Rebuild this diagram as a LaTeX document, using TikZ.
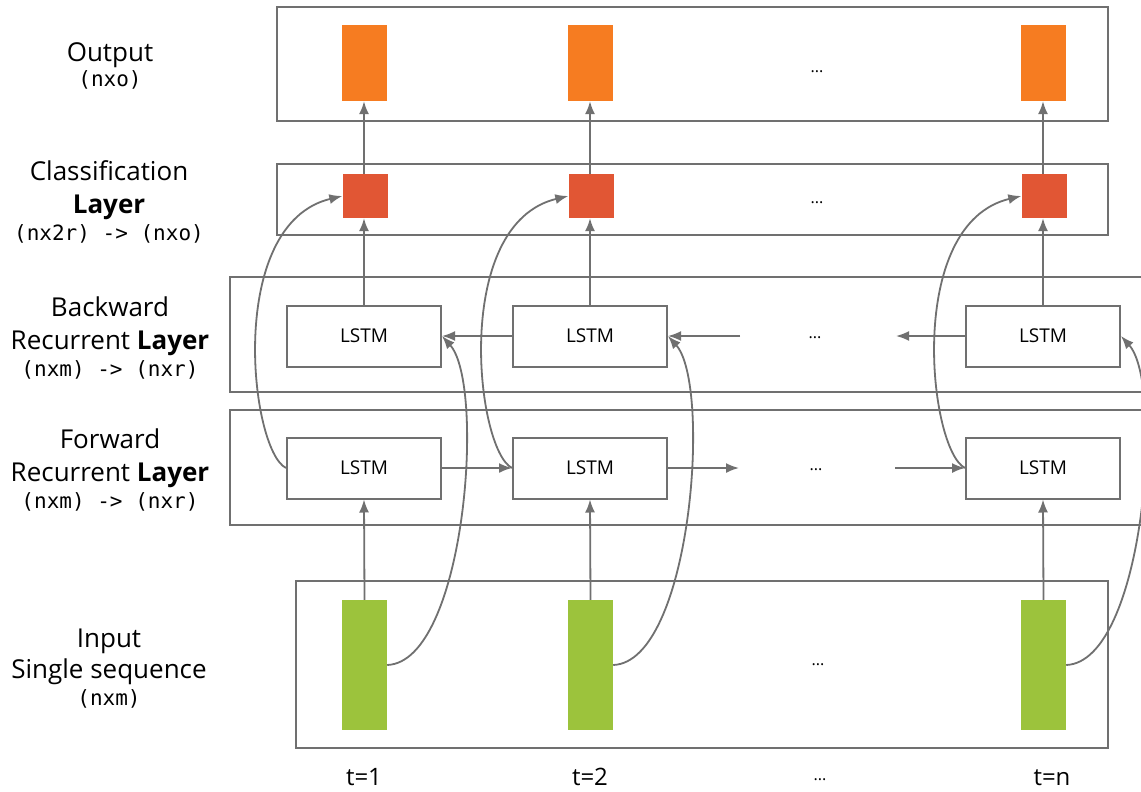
\documentclass[tikz,border=0pt]{standalone}
\usepackage{fontspec}
\setmainfont{Open Sans}
\newfontfamily\monof{DejaVu Sans Mono}
\usetikzlibrary{arrows.meta}
\definecolor{ln}{HTML}{707070}
\definecolor{outc}{HTML}{F67C21}
\definecolor{clsc}{HTML}{E15634}
\definecolor{inc}{HTML}{9CC33C}
\begin{document}
\begin{tikzpicture}[x=1pt,y=-1pt,
  frame/.style={draw=ln, line width=2.2pt},
  lstm/.style={draw=ln, line width=2pt, fill=white, minimum width=154pt, minimum height=61pt, inner sep=0pt, font=\fontsize{19}{22}\selectfont},
  outbox/.style={fill=outc, minimum width=45pt, minimum height=76pt, inner sep=0pt},
  clsbox/.style={fill=clsc, minimum width=45pt, minimum height=44pt, inner sep=0pt},
  inbox/.style={fill=inc, minimum width=45pt, minimum height=130pt, inner sep=0pt},
  conn/.style={draw=ln, line width=1.8pt, -{Latex[length=13pt,width=10pt]}},
  lbl/.style={anchor=base, font=\fontsize{26}{30}\selectfont, inner sep=0pt},
  mono/.style={anchor=base, font=\monof\fontsize{21}{24}\selectfont, inner sep=0pt},
  dots/.style={font=\fontsize{16}{18}\selectfont, inner sep=0pt},
  tlbl/.style={anchor=base, font=\fontsize{24}{26}\selectfont, inner sep=0pt}
]
\useasboundingbox (0,0) rectangle (1141,792);
\fill[white] (0,0) rectangle (1141,792);

% layer frames
\draw[frame] (277,7) rectangle (1108,121);
\draw[frame] (277,164) rectangle (1108,235);
\draw[frame] (230,277) rectangle (1170,392);
\draw[frame] (230,410) rectangle (1170,525);
\draw[frame] (296,581) rectangle (1108,748);

% left labels
\node[lbl] (lo1) at (110,62) {Output};
\node[mono] (lo2) at (110,87) {(nxo)};
\node[lbl] (lc1) at (109,180) {Classification};
\node[lbl] (lc2) at (109,213) {\bfseries Layer};
\node[mono] (lc3) at (109,240) {(nx2r) -> (nxo)};
\node[lbl] (lb1) at (110,316) {Backward};
\node[lbl] (lb2) at (110,349) {Recurrent \textbf{Layer}};
\node[mono] (lb3) at (110,376) {(nxm) -> (nxr)};
\node[lbl] (lf1) at (110,448) {Forward};
\node[lbl] (lf2) at (110,481) {Recurrent \textbf{Layer}};
\node[mono] (lf3) at (110,508) {(nxm) -> (nxr)};
\node[lbl] (li1) at (109,647) {Input};
\node[lbl] (li2) at (109,678) {Single sequence};
\node[mono] (li3) at (109,705) {(nxm)};

% columns
\foreach \i/\x in {1/364, 2/590, n/1043} {
  \node[outbox] (o\i) at (\x,63) {};
  \node[clsbox] (c\i) at (\x+1,196) {};
  \node[lstm] (b\i) at (\x,336) {LSTM};
  \node[lstm] (f\i) at (\x,468) {LSTM};
  \node[inbox] (g\i) at (\x+0.5,665) {};
  \draw[conn] (g\i.north) -- (f\i.south);
  \draw[conn] (b\i.north) -- (b\i.north |- c\i.south);
  \draw[conn] (c\i.north -| o\i.south) -- (o\i.south);
  \draw[conn] (f\i.west) .. controls +(-36,-18) and +(-117,28) .. (c\i.west);
  \draw[conn] (g\i.east) .. controls +(78,-3) and +(44,49) .. (b\i.east);
}

% horizontal recurrences
\coordinate (bd1) at (740,336);
\coordinate (bd2) at (896,336);
\coordinate (fd1) at (739,468);
\coordinate (fd2) at (895,468);
\draw[conn] (b2.west) -- (b1.east);
\draw[conn] (bd1) -- (b2.east);
\draw[conn] (bn.west) -- (bd2);
\draw[conn] (f1.east) -- (f2.west);
\draw[conn] (f2.east) -- (fd1);
\draw[conn] (fd2) -- (fn.west);

% ellipses
\node[dots] (d1) at (817,72) {...};
\node[dots] (d2) at (817,203) {...};
\node[dots] (d3) at (815,338) {...};
\node[dots] (d4) at (816,470) {...};
\node[dots] (d5) at (818,665) {...};
\node[dots] (d6) at (820,780) {...};

% time labels
\node[tlbl] (t1) at (364,785) {t=1};
\node[tlbl] (t2) at (590,785) {t=2};
\node[tlbl] (tn) at (1052,785) {t=n};
\end{tikzpicture}
\end{document}
